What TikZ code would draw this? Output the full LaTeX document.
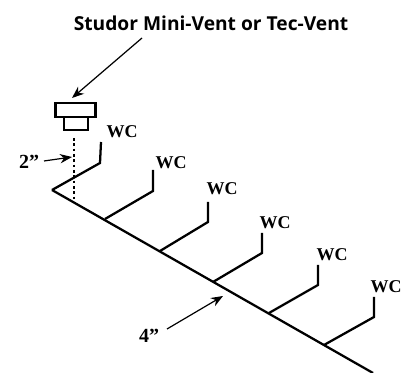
\documentclass[tikz,border=0pt]{standalone}
\usepackage{fontspec}
\setmainfont{Liberation Serif}
\newfontfamily\titlefont{Open Sans}
\usetikzlibrary{arrows.meta}
\tikzset{every picture/.style={line width=0.75pt}}
\tikzset{
pipe/.style={line width=1.7pt,line join=miter},
pointer/.style={line width=0.9pt,-{Stealth[length=9pt,width=7pt]}},
wc label/.style={inner sep=0.75pt,font=\bfseries\fontsize{13.5}{14}\selectfont},
size label/.style={inner sep=0.75pt,font=\bfseries\fontsize{15}{16}\selectfont},
vent/.style={draw,line width=1.6pt,fill=white}}

\begin{document}
\begin{tikzpicture}[x=0.75pt,y=0.75pt,yscale=-1,xscale=1]
\useasboundingbox (0,0) rectangle (410,373);

% Main line
\coordinate (apex) at (52,190);
\coordinate (mainend) at (373,373);
\draw [pipe] (apex) -- (mainend);

% Branches
\coordinate (a1) at (100,163);
\coordinate (t1) at (101,142);
\draw [pipe] (apex) -- (a1) -- (t1);
\foreach \jx/\jy/\bx/\by/\tx/\ty/\n in {105/219/153/191/153/170/2,160/251/208/222/208/202/3,213/282/262/253/262/233/4,269/313/318/285/318/265/5,324/345/374/317/374/297/6}{
\coordinate (j\n) at (\jx,\jy);
\coordinate (a\n) at (\bx,\by);
\coordinate (t\n) at (\tx,\ty);
\draw [pipe] (j\n) -- (a\n) -- (t\n);
}

% Vent
\node (body) [vent,minimum width=18.5pt,minimum height=9.5pt,inner sep=0pt] at (76,123.5) {};
\node (cap) [vent,minimum width=30pt,minimum height=10pt,inner sep=0pt] at (75.5,110) {};

% Dotted riser
\coordinate (dota) at (74,138);
\coordinate (dotb) at (74,201);
\draw [line width=1.2pt,dash pattern=on 2pt off 2pt] (dota) -- (dotb);

% Text Node
\node (title) [inner sep=0.75pt,font=\titlefont\bfseries\fontsize{14.4}{16}\selectfont] at (211,23) {Studor Mini-Vent or Tec-Vent};
\node (two) [size label] at (29,162) {2"};
\node (four) [size label] at (149,336) {4"};
\foreach \lx/\ly/\n in {122/132/1,171/163/2,222/189/3,275/223/4,332/255/5,386/287/6}{
\node (wc\n) [wc label] at (\lx,\ly) {WC};
}

% Arrows
\coordinate (ventfrom) at (142,38);
\coordinate (ventto) at (72,98);
\draw [pointer] (ventfrom) -- (ventto);
\coordinate (twofrom) at (44,161);
\coordinate (twoto) at (72,157);
\draw [pointer] (twofrom) -- (twoto);
\coordinate (fourfrom) at (167,329);
\coordinate (fourto) at (223,296);
\draw [pointer] (fourfrom) -- (fourto);

\end{tikzpicture}
\end{document}
